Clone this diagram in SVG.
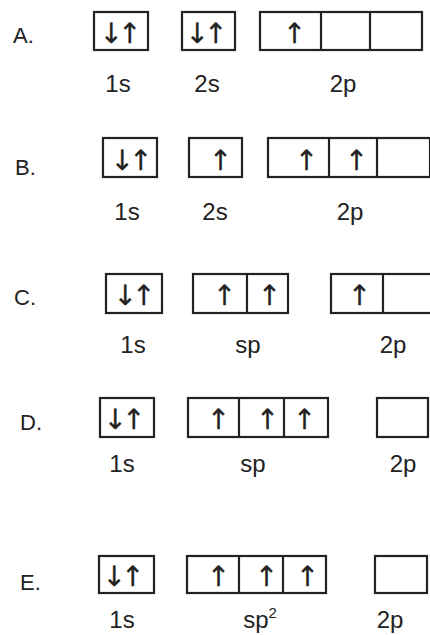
<svg xmlns="http://www.w3.org/2000/svg" width="430" height="635" viewBox="0 0 430 635">
<style>
.b{fill:none;stroke:#222;stroke-width:2.2}
.d{stroke:#222;stroke-width:2.2}
.t{font-family:"Liberation Sans",Arial,sans-serif;font-size:22px;fill:#222}
.l{font-family:"Liberation Sans",Arial,sans-serif;font-size:24px;fill:#222;text-anchor:middle}
.a{font-family:"DejaVu Sans",sans-serif;font-size:28px;fill:#222;stroke:#222;stroke-width:0.25;text-anchor:middle;letter-spacing:-5px}
</style>
<rect width="430" height="635" fill="#fff"/>
<g id="rowA">
<text class="t" x="13" y="43">A.</text>
<rect class="b" x="94" y="12" width="54" height="38"/>
<text class="a" x="118" y="43">↓↑</text>
<rect class="b" x="182" y="12" width="53" height="38"/>
<text class="a" x="204" y="43">↓↑</text>
<rect class="b" x="260" y="12" width="162" height="38"/>
<line class="d" x1="321" y1="12" x2="321" y2="50"/><line class="d" x1="370" y1="12" x2="370" y2="50"/>
<text class="a" x="292" y="43">↑</text>
<text class="l" x="118" y="92">1s</text><text class="l" x="207" y="92">2s</text><text class="l" x="343" y="92">2p</text>
</g>
<g id="rowB">
<text class="t" x="15" y="175">B.</text>
<rect class="b" x="103" y="138" width="54" height="39"/>
<text class="a" x="129" y="170">↓↑</text>
<rect class="b" x="189" y="138" width="53" height="39"/>
<text class="a" x="218" y="170">↑</text>
<rect class="b" x="268" y="138" width="162" height="39"/>
<line class="d" x1="329" y1="138" x2="329" y2="177"/><line class="d" x1="377" y1="138" x2="377" y2="177"/>
<text class="a" x="304" y="170">↑</text><text class="a" x="354" y="170">↑</text>
<text class="l" x="127" y="220">1s</text><text class="l" x="215" y="220">2s</text><text class="l" x="350" y="220">2p</text>
</g>
<g id="rowC">
<text class="t" x="14" y="305">C.</text>
<rect class="b" x="106" y="274" width="56" height="39"/>
<text class="a" x="132" y="305">↓↑</text>
<rect class="b" x="193" y="274" width="95" height="39"/>
<line class="d" x1="247" y1="274" x2="247" y2="313"/>
<text class="a" x="222" y="305">↑</text><text class="a" x="267" y="305">↑</text>
<rect class="b" x="331" y="274" width="110" height="39"/>
<line class="d" x1="383" y1="274" x2="383" y2="313"/>
<text class="a" x="357" y="305">↑</text>
<text class="l" x="133" y="353">1s</text><text class="l" x="248" y="353">sp</text><text class="l" x="393" y="353">2p</text>
</g>
<g id="rowD">
<text class="t" x="20" y="430">D.</text>
<rect class="b" x="100" y="398" width="54" height="39"/>
<text class="a" x="122" y="429">↓↑</text>
<rect class="b" x="188" y="398" width="140" height="39"/>
<line class="d" x1="239" y1="398" x2="239" y2="437"/><line class="d" x1="284" y1="398" x2="284" y2="437"/>
<text class="a" x="216" y="429">↑</text><text class="a" x="265" y="429">↑</text><text class="a" x="302" y="429">↑</text>
<rect class="b" x="377" y="398" width="51" height="39"/>
<text class="l" x="122" y="472">1s</text><text class="l" x="253" y="472">sp</text><text class="l" x="403" y="472">2p</text>
</g>
<g id="rowE">
<text class="t" x="20" y="590">E.</text>
<rect class="b" x="99" y="556" width="55" height="37"/>
<text class="a" x="121" y="586">↓↑</text>
<rect class="b" x="187" y="556" width="139" height="37"/>
<line class="d" x1="239" y1="556" x2="239" y2="593"/><line class="d" x1="283" y1="556" x2="283" y2="593"/>
<text class="a" x="216" y="586">↑</text><text class="a" x="264" y="586">↑</text><text class="a" x="305" y="586">↑</text>
<rect class="b" x="375" y="556" width="52" height="37"/>
<text class="l" x="122" y="628">1s</text><text class="l" x="260" y="628">sp<tspan font-size="15" dy="-10">2</tspan></text><text class="l" x="390" y="628">2p</text>
</g>
</svg>
